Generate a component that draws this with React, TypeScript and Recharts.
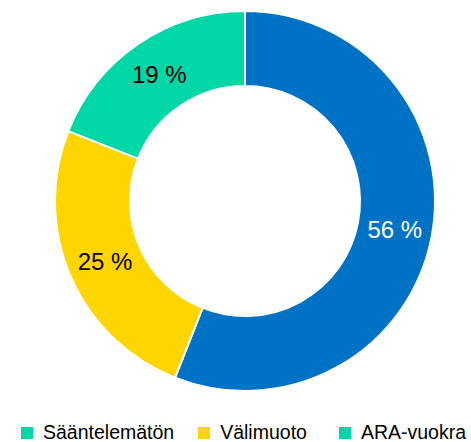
import React from 'react';
import { PieChart, Pie, Cell, Legend } from 'recharts';

const categories = ['Sääntelemätön', 'Välimuoto', 'ARA-vuokra'];
const shares = [56, 25, 19];
const sliceColors = ['#0072C6', '#FFD500', '#00D7A6'];
// the legend of the original shows the first swatch in green
const legendColors = ['#00D7A6', '#FFD500', '#00D7A6'];
const labelColors = ['#ffffff', '#000000', '#000000'];

const data = categories.map((name, i) => ({ name, value: shares[i] }));

const RADIAN = Math.PI / 180;
const FONT = '"Liberation Sans", Arial, sans-serif';

const renderLabel = (props: any) => {
  const { cx, cy, midAngle, innerRadius, outerRadius, value, index } = props;
  const r = (innerRadius + outerRadius) / 2;
  const x = cx + r * Math.cos(-midAngle * RADIAN);
  const y = cy + r * Math.sin(-midAngle * RADIAN);
  return (
    <text
      x={x}
      y={y}
      fill={labelColors[index]}
      textAnchor="middle"
      dominantBaseline="central"
      fontSize={24}
      fontFamily={FONT}
    >
      {`${value} %`}
    </text>
  );
};

const renderLegend = () => (
  <div style={{ display: 'flex', fontFamily: FONT, fontSize: 19.5, color: '#000', whiteSpace: 'nowrap' }}>
    {categories.map((name, i) => (
      <div key={name} style={{ display: 'flex', alignItems: 'center', marginRight: i === 0 ? 24 : 32 }}>
        <span style={{ width: 12, height: 12, background: legendColors[i], marginRight: 10, display: 'inline-block' }} />
        <span>{name}</span>
      </div>
    ))}
  </div>
);

const App: React.FC = () => {
  return (
    <div style={{ position: 'absolute', left: 0, top: 0, background: '#fff' }}>
      <PieChart width={471} height={442} margin={{ top: 0, right: 0, bottom: 0, left: 0 }}>
        <Pie
          data={data}
          dataKey="value"
          nameKey="name"
          cx={245}
          cy={201}
          innerRadius={115}
          outerRadius={190}
          startAngle={90}
          endAngle={-270}
          stroke="#ffffff"
          strokeWidth={2}
          label={renderLabel}
          labelLine={false}
          isAnimationActive={false}
        >
          {data.map((d, i) => (
            <Cell key={d.name} fill={sliceColors[i]} />
          ))}
        </Pie>
        <Legend content={renderLegend} wrapperStyle={{ left: 21, top: 421, width: 460 }} />
      </PieChart>
    </div>
  );
};

export default App;
